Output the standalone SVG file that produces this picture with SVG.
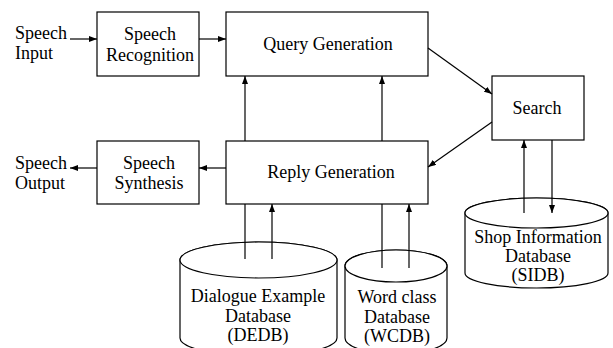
<svg xmlns="http://www.w3.org/2000/svg" width="613" height="348" viewBox="0 0 613 348">
<defs>
<marker id="ah" markerUnits="userSpaceOnUse" markerWidth="9" markerHeight="6" refX="8" refY="3" orient="auto"><path d="M0,0 L8,3 L0,6 z" fill="#000"/></marker>
<style>
.box{fill:#fff;stroke:#000;stroke-width:1.2}
.cyl{fill:#fff;stroke:#000;stroke-width:1.2}
.ln{stroke:#000;stroke-width:1.2;fill:none}
.ar{stroke:#000;stroke-width:1.2;fill:none;marker-end:url(#ah)}
.c{text-anchor:middle}
</style>
</defs>
<rect width="613" height="348" fill="#fff"/>
<g font-family="Liberation Serif, DejaVu Serif, serif" font-size="18" fill="#000">
<g id="speech-input"><text x="15" y="39">Speech</text><text x="15" y="59">Input</text></g>
<g id="speech-output"><text x="15" y="169">Speech</text><text x="15" y="189">Output</text></g>
<g id="speech-recognition"><rect class="box" x="97" y="12" width="102" height="64"/><text class="c" x="150" y="40">Speech</text><text class="c" x="150" y="61">Recognition</text></g>
<g id="query-generation"><rect class="box" x="226" y="12" width="202" height="64"/><text class="c" x="328" y="50">Query Generation</text></g>
<g id="search"><rect class="box" x="492" y="76" width="92" height="64"/><text class="c" x="537" y="114">Search</text></g>
<g id="speech-synthesis"><rect class="box" x="97" y="141" width="102" height="63"/><text class="c" x="149" y="169">Speech</text><text class="c" x="149" y="189">Synthesis</text></g>
<g id="reply-generation"><rect class="box" x="226" y="141" width="202" height="63"/><text class="c" x="331" y="178">Reply Generation</text></g>
<g id="dedb"><path class="cyl" d="M180,260 L180,338 A78.5,18 0 0 0 337,338 L337,260 A78.5,18 0 0 0 180,260 Z"/><ellipse class="cyl" cx="258.5" cy="260" rx="78.5" ry="18"/><text class="c" x="258" y="302">Dialogue Example</text><text class="c" x="258" y="322">Database</text><text class="c" x="258" y="341">(DEDB)</text></g>
<g id="wcdb"><path class="cyl" d="M345,266 L345,338 A51,16 0 0 0 447,338 L447,266 A51,16 0 0 0 345,266 Z"/><ellipse class="cyl" cx="396" cy="266" rx="51" ry="16"/><text class="c" x="397" y="303">Word class</text><text class="c" x="397" y="323">Database</text><text class="c" x="397" y="342">(WCDB)</text></g>
<g id="sidb"><path class="cyl" d="M465,213 L465,273 A71.5,15 0 0 0 608,273 L608,213 A71.5,15 0 0 0 465,213 Z"/><ellipse class="cyl" cx="536.5" cy="213" rx="71.5" ry="15"/><text class="c" x="538" y="243">Shop Information</text><text class="c" x="538" y="262">Database</text><text class="c" x="538" y="281">(SIDB)</text></g>
</g>
<g id="connectors">
<line class="ar" x1="70" y1="39" x2="97" y2="39"/>
<line class="ar" x1="199" y1="39" x2="226" y2="39"/>
<line class="ar" x1="428" y1="48" x2="492" y2="94"/>
<line class="ar" x1="492" y1="122" x2="428" y2="167"/>
<line class="ar" x1="245" y1="141" x2="245" y2="76"/>
<line class="ar" x1="382" y1="141" x2="382" y2="76"/>
<line class="ar" x1="226" y1="168" x2="199" y2="168"/>
<line class="ar" x1="97" y1="168" x2="70" y2="168"/>
<line class="ln" x1="245" y1="204" x2="245" y2="259"/>
<line class="ar" x1="272" y1="259" x2="272" y2="204"/>
<line class="ln" x1="382" y1="204" x2="382" y2="268"/>
<line class="ar" x1="409" y1="268" x2="409" y2="204"/>
<line class="ar" x1="524" y1="213" x2="524" y2="140"/>
<line class="ar" x1="552" y1="140" x2="552" y2="213"/>
</g>
</svg>
